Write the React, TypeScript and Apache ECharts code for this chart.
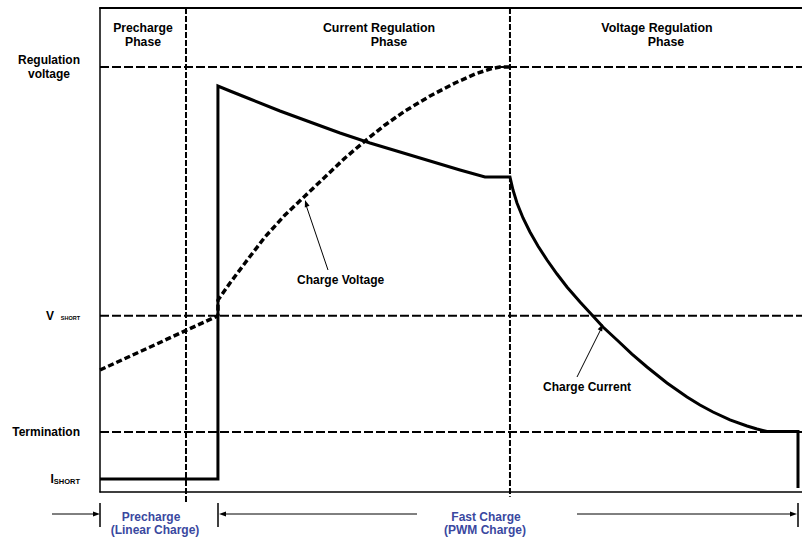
import React, { useEffect, useRef } from "react";
import * as echarts from "echarts";

// Charge current curve (time %, level %)
const currentX = [0, 16.8, 16.8, 18.52, 21.37, 25.64, 29.91, 34.19, 38.46, 42.74, 47.01, 51.28, 54.84, 58.4, 58.83, 59.4, 60.26, 61.25, 62.39, 63.68, 65.1, 66.52, 68.38, 70.09, 71.65, 73.65, 75.78, 77.92, 80.77, 83.62, 85.47, 87.32, 89.74, 92.17, 93.59, 95.01, 99.43, 99.43];
const currentY = [2.7, 2.7, 83.88, 82.85, 81.2, 78.72, 76.45, 74.17, 72.11, 70.25, 68.39, 66.53, 65.08, 65.08, 62.4, 59.71, 56.61, 53.72, 50.83, 47.93, 45.04, 42.36, 39.26, 36.57, 34.09, 31.4, 28.51, 25.83, 22.52, 19.63, 17.98, 16.53, 14.88, 13.64, 13.02, 12.5, 12.5, 0.83];

// Charge voltage curve
const voltageX = [0, 16.8, 16.81, 18.52, 20.66, 23.5, 26.35, 29.2, 32.05, 34.9, 37.75, 40.6, 43.45, 47.01, 50.57, 53.42, 55.56, 56.98, 58.4];
const voltageY = [25.2, 36.4, 39.67, 43.18, 47.31, 52.69, 57.23, 61.16, 65.08, 69.01, 72.52, 75.83, 78.72, 81.82, 84.5, 86.36, 87.4, 87.81, 87.81];

// Level tick labels
const levelValues = [87.8, 36.4, 12.4, 2.7];
const levelLabels = ["{c|Regulation}\n{c|voltage}", "{b|V}  {s|SHORT}", "{b|Termination}", "{b|I}{t|SHORT}"];
const dashedLevels = [87.8, 36.4, 12.4];

// Phase boundaries
const phaseX = [12.25, 58.4];
const phaseBottom = [-2.3, -1.0];

const FONT = "'Liberation Sans', Arial, Helvetica, sans-serif";
const BLUE = "#3a48a0";

function arrowHead(tipX: number, tipY: number, fromX: number, fromY: number, len = 7, half = 2.5) {
  const dx = tipX - fromX;
  const dy = tipY - fromY;
  const d = Math.sqrt(dx * dx + dy * dy);
  const ux = dx / d;
  const uy = dy / d;
  const bx = tipX - ux * len;
  const by = tipY - uy * len;
  return {
    type: "polygon",
    shape: { points: [[tipX, tipY], [bx - uy * half, by + ux * half], [bx + uy * half, by - ux * half]] },
    style: { fill: "#000" },
    z: 100,
  };
}

function line(x1: number, y1: number, x2: number, y2: number, w = 1) {
  return { type: "line", shape: { x1, y1, x2, y2 }, style: { stroke: "#000", lineWidth: w }, z: 100 };
}

function txt(x: number, y: number, text: string, align = "center", color = "#000", size = 12) {
  return {
    type: "text",
    x,
    y,
    style: { text, fill: color, font: `bold ${size}px ${FONT}`, textAlign: align, textVerticalAlign: "middle" },
    z: 100,
  };
}

export default function App() {
  const ref = useRef<HTMLDivElement>(null);
  useEffect(() => {
    if (!ref.current) return;
    const chart = echarts.init(ref.current, undefined, { renderer: "svg" });
    const series: any[] = [];
    dashedLevels.forEach((lv, i) => {
      series.push({
        type: "line",
        name: "level" + i,
        data: [[0, lv], [100, lv]],
        showSymbol: false,
        silent: true,
        lineStyle: { color: "#000", width: 2, type: [9, 3] },
        z: 2,
      });
    });
    phaseX.forEach((px, i) => {
      series.push({
        type: "line",
        name: "phase" + i,
        data: [[px, 100], [px, phaseBottom[i]]],
        showSymbol: false,
        silent: true,
        clip: false,
        lineStyle: { color: "#000", width: 2, type: [6, 2] },
        z: 2,
      });
    });
    series.push({
      type: "line",
      name: "Charge Voltage",
      data: voltageX.map((x, i) => [x, voltageY[i]]),
      showSymbol: false,
      lineStyle: { color: "#000", width: 3.5, type: [6, 3] },
      z: 4,
    });
    series.push({
      type: "line",
      name: "Charge Current",
      data: currentX.map((x, i) => [x, currentY[i]]),
      showSymbol: false,
      clip: false,
      lineStyle: { color: "#000", width: 3, join: "miter" },
      z: 5,
    });

    const graphics: any[] = [
      txt(143, 28, "Precharge", "center", "#000", 12.2),
      txt(143, 42, "Phase", "center", "#000", 12.2),
      txt(379, 28, "Current Regulation", "center", "#000", 12.4),
      txt(389, 42, "Phase", "center", "#000", 12.4),
      txt(657, 28, "Voltage Regulation", "center", "#000", 12.4),
      txt(666, 42, "Phase", "center", "#000", 12.4),
      txt(297, 280, "Charge Voltage", "left", "#000", 12),
      txt(543, 387, "Charge Current", "left", "#000", 12),
      line(328, 270, 306, 205),
      arrowHead(305, 200, 328, 270),
      line(577, 377, 601, 329),
      arrowHead(603, 324, 577, 377),
      // bottom annotation
      line(52, 514, 97, 514),
      arrowHead(100, 514, 52, 514),
      line(100, 503, 100, 527, 1.5),
      line(218, 503, 218, 527, 1.5),
      line(798, 503, 798, 527, 1.5),
      line(222, 514, 417, 514),
      arrowHead(219, 514, 417, 514),
      line(577, 514, 794, 514),
      arrowHead(797, 514, 577, 514),
      txt(151, 517, "Precharge", "center", BLUE),
      txt(155, 530, "(Linear Charge)", "center", BLUE),
      txt(486, 517, "Fast Charge", "center", BLUE),
      txt(485, 530, "(PWM Charge)", "center", BLUE),
    ];

    chart.setOption({
      animation: false,
      backgroundColor: "#fff",
      grid: { left: 100, top: 8, width: 702, height: 484 },
      xAxis: [
        {
          type: "value",
          min: 0,
          max: 100,
          position: "bottom",
          axisLine: { show: true, onZero: false, lineStyle: { color: "#000", width: 1.5 } },
          axisTick: { show: false },
          axisLabel: { show: false },
          splitLine: { show: false },
        },
        {
          type: "value",
          min: 0,
          max: 100,
          position: "top",
          axisLine: { show: true, onZero: false, lineStyle: { color: "#000", width: 2 } },
          axisTick: { show: false },
          axisLabel: { show: false },
          splitLine: { show: false },
        },
      ],
      yAxis: {
        type: "value",
        min: 0,
        max: 100,
        axisLine: { show: true, onZero: false, lineStyle: { color: "#000", width: 1.5 } },
        axisTick: { show: false },
        splitLine: { show: false },
        axisLabel: {
          show: true,
          customValues: levelValues,
          margin: 20,
          align: "right",
          formatter: (v: number) => {
            const i = levelValues.findIndex((l) => Math.abs(l - v) < 0.01);
            return i >= 0 ? levelLabels[i] : "";
          },
          rich: {
            c: { width: 62, align: "center", fontSize: 12, fontWeight: "bold", fontFamily: FONT, color: "#000", lineHeight: 14 },
            b: { fontSize: 12, fontWeight: "bold", fontFamily: FONT, color: "#000" },
            s: { fontSize: 5.5, fontWeight: "bold", fontFamily: FONT, color: "#000", padding: [5, 0, 0, 0] },
            t: { fontSize: 7.5, fontWeight: "bold", fontFamily: FONT, color: "#000", padding: [6, 0, 0, 0] },
          },
        },
      },
      series,
      graphic: graphics,
    });
    return () => chart.dispose();
  }, []);
  return (
    <div
      ref={ref}
      style={{ position: "fixed", left: 0, top: 0, width: 802, height: 539, background: "#fff" }}
    />
  );
}
